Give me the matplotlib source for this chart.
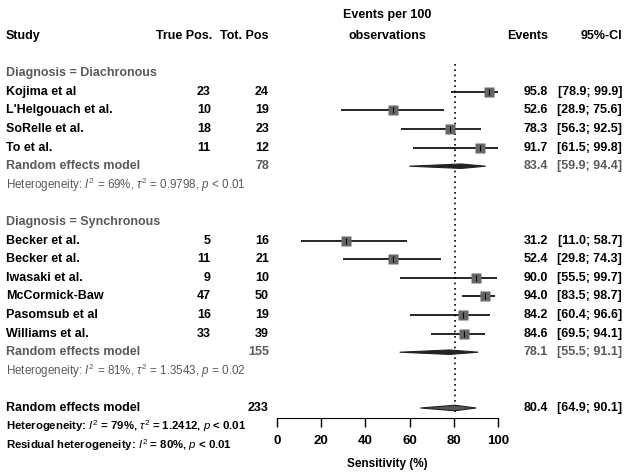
import numpy as np
import matplotlib.pyplot as plt
from matplotlib.transforms import blended_transform_factory

plt.rcParams['font.family'] = 'Liberation Sans'
plt.rcParams['mathtext.fontset'] = 'custom'
plt.rcParams['mathtext.rm'] = 'Liberation Sans'
plt.rcParams['mathtext.it'] = 'Liberation Sans:italic'
plt.rcParams['mathtext.bf'] = 'Liberation Sans:bold'

# data
studies_a = ["Kojima et al", "L'Helgouach et al.", "SoRelle et al.", "To et al."]
tp_a = [23, 10, 18, 11]
tot_a = [24, 19, 23, 12]
est_a = [95.8, 52.6, 78.3, 91.7]
lo_a = [78.9, 28.9, 56.3, 61.5]
hi_a = [99.9, 75.6, 92.5, 99.8]
pool_a = (78, 83.4, 59.9, 94.4)
het_a = r"Heterogeneity: $I^2$ = 69%, $\tau^2$ = 0.9798, $p$ < 0.01"

studies_b = ["Becker et al.", "Becker et al.", "Iwasaki et al.", "McCormick-Baw",
             "Pasomsub et al", "Williams et al."]
tp_b = [5, 11, 9, 47, 16, 33]
tot_b = [16, 21, 10, 50, 19, 39]
est_b = [31.2, 52.4, 90.0, 94.0, 84.2, 84.6]
lo_b = [11.0, 29.8, 55.5, 83.5, 60.4, 69.5]
hi_b = [58.7, 74.3, 99.7, 98.7, 96.6, 94.1]
pool_b = (155, 78.1, 55.5, 91.1)
het_b = r"Heterogeneity: $I^2$ = 81%, $\tau^2$ = 1.3543, $p$ = 0.02"

pool_all = (233, 80.4, 64.9, 90.1)
het_all = r"Heterogeneity: $I^2$ = 79%, $\tau^2$ = 1.2412, $p$ < 0.01"
het_res = r"Residual heterogeneity: $I^2$ = 80%, $p$ < 0.01"

W, H = 630, 476
fig = plt.figure(figsize=(6.3, 4.76), dpi=100)
# row r sits at pixel y = 36 + 18.6*r
y0, dy = 36, 18.6
ax_bot = 418
ax = fig.add_axes([277 / W, (H - ax_bot) / H, 221 / W, ax_bot / H])
ax.set_xlim(0, 100)
ax.set_ylim((ax_bot - y0) / dy, -y0 / dy)
for s in ['top', 'left', 'right']:
    ax.spines[s].set_visible(False)
ax.spines['bottom'].set_bounds(0, 100)
ax.set_yticks([])
ax.set_xticks([0, 20, 40, 60, 80, 100])
ax.tick_params(axis='x', length=6.5, width=1, labelsize=9.5, pad=6)
for lab in ax.get_xticklabels():
    lab.set_fontweight('bold')
ax.set_xlabel("Sensitivity (%)", fontsize=8.5, fontweight='bold', labelpad=8)

tr = blended_transform_factory(fig.transFigure, ax.transData)
gray = '#5a5a5a'
fs = 9


def txt(xpx, r, s, ha='left', color='black', weight='bold', size=fs):
    fig.text(xpx / W, r, s, transform=tr, ha=ha, va='center', color=color,
             fontweight=weight, fontsize=size)


def study_row(r, name, tp, tot, est, lo, hi):
    txt(6, r, name)
    txt(211, r, str(tp), ha='right')
    txt(269, r, str(tot), ha='right')
    txt(548, r, f"{est:.1f}", ha='right')
    txt(622, r, f"[{lo:.1f}; {hi:.1f}]", ha='right')
    ax.hlines(r, lo, hi, color='black', lw=1.2, clip_on=False, zorder=3)
    ax.plot(est, r, 's', ms=6.8, color='#666666', mec='none', zorder=4, clip_on=False)
    ax.plot(est, r, '|', ms=4, color='black', mew=0.8, zorder=5, clip_on=False)


def pooled_row(r, label, pool, color, h, fc, ec):
    n, est, lo, hi = pool
    txt(6, r, label, color=color)
    txt(269, r, str(n), ha='right', color=color)
    txt(548, r, f"{est:.1f}", ha='right', color=color)
    txt(622, r, f"[{lo:.1f}; {hi:.1f}]", ha='right', color=color)
    ax.fill([lo, est, hi, est], [r, r - h, r, r + h], facecolor=fc,
            edgecolor=ec, lw=0.8, zorder=4, clip_on=False)


# header
txt(6, 0, "Study")
txt(212, 0, "True Pos.", ha='right')
txt(269, 0, "Tot. Pos", ha='right')
txt(387, -21 / dy, "Events per 100", ha='center')
txt(387, 0, "observations", ha='center')
txt(548, 0, "Events", ha='right')
txt(622, 0, "95%-CI", ha='right')

# reference line
ax.vlines(pool_all[1], 1.5, 20.2, color='black', lw=1.2, linestyles=(0, (1, 2.2)),
          zorder=2, clip_on=False)

# subgroup 1
txt(6, 2, "Diagnosis = Diachronous", color=gray)
for i in range(len(studies_a)):
    study_row(3 + i, studies_a[i], tp_a[i], tot_a[i], est_a[i], lo_a[i], hi_a[i])
pooled_row(7, "Random effects model", pool_a, gray, 0.12, '#222222', '#222222')
txt(6, 8, het_a, color=gray, weight='normal', size=8.4)

# subgroup 2
txt(6, 10, "Diagnosis = Synchronous", color=gray)
for i in range(len(studies_b)):
    study_row(11 + i, studies_b[i], tp_b[i], tot_b[i], est_b[i], lo_b[i], hi_b[i])
pooled_row(17, "Random effects model", pool_b, gray, 0.12, '#222222', '#222222')
txt(6, 18, het_b, color=gray, weight='normal', size=8.4)

# overall
pooled_row(20, "Random effects model", pool_all, 'black', 0.15, '#555555', '#222222')
txt(6, 21, het_all, size=8.2)
txt(6, 22, het_res, size=8.2)

fig.savefig("out.png", dpi=100)
